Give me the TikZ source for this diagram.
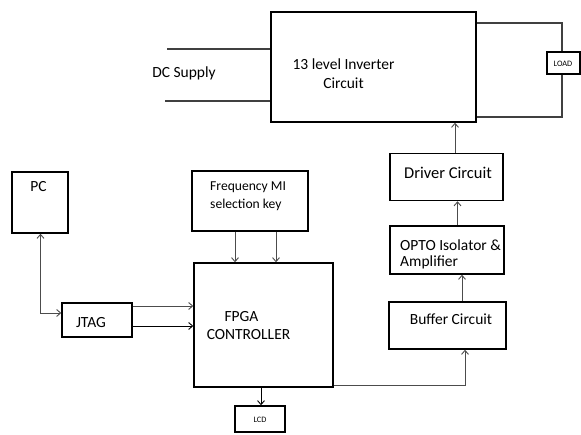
\documentclass[tikz,border=0pt]{standalone}
\usepackage{fontspec}
\setmainfont{Carlito}
\usetikzlibrary{arrows.meta}
\begin{document}
\begin{tikzpicture}[x=1pt,y=-1pt,
  box/.style={draw=black,line width=1.5pt,inner sep=0pt,fill=none},
  txt/.style={inner sep=0pt,font=\fontsize{15.5}{19}\selectfont},
  small/.style={inner sep=0pt,font=\fontsize{8.3}{10}\selectfont},
  wire/.style={draw=black!75,line width=1.2pt},
  arr/.style={draw=black!70,line width=0.9pt,-{Straight Barb[length=4pt,width=7pt]}},
  arrboth/.style={draw=black!70,line width=0.9pt,{Straight Barb[length=4pt,width=7pt]}-{Straight Barb[length=4pt,width=7pt]}}]
\useasboundingbox[fill=white] (0,0) rectangle (581,435);
% boxes
\node[box,minimum width=205pt,minimum height=110pt] (inv) at (373.5,67) {};
\node[box,minimum width=33pt,minimum height=22pt] (load) at (563.5,63) {};
\node[box,minimum width=56pt,minimum height=61pt] (pc) at (40,202.5) {};
\node[box,minimum width=116pt,minimum height=60pt] (freq) at (250,201) {};
\node[box,minimum width=139pt,minimum height=124pt] (fpga) at (263.5,325) {};
\node[box,minimum width=70pt,minimum height=34pt] (jtag) at (97,320) {};
\node[box,minimum width=50pt,minimum height=26pt] (lcd) at (260,419) {};
\node[box,minimum width=117pt,minimum height=47pt] (buffer) at (447.5,325.5) {};
\node[box,minimum width=114pt,minimum height=48pt] (opto) at (447,250) {};
\node[box,minimum width=113pt,minimum height=47pt] (driver) at (446.5,177) {};
% texts
\node[txt] (dctxt) at (184,73) {DC Supply};
\node[txt,align=center] (invtxt) at (343.5,73.5) {13 level Inverter\\Circuit};
\node[small] (loadtxt) at (563,63.5) {LOAD};
\node[txt] (pctxt) at (38.5,187) {PC};
\node[txt,align=left,anchor=west,font=\fontsize{13.6}{18}\selectfont] (freqtxt) at (210,196) {Frequency MI\\selection key};
\node[txt] (fpgatxt) at (241.5,316.5) {FPGA};
\node[txt] (ctrltxt) at (248.5,335) {CONTROLLER};
\node[txt] (jtagtxt) at (91,322.5) {JTAG};
\node[small] (lcdtxt) at (260,420) {LCD};
\node[txt] (buftxt) at (451,319) {Buffer Circuit};
\node[txt,align=left,anchor=west,font=\fontsize{15.5}{16}\selectfont] (optotxt) at (400,254) {OPTO Isolator \&\\Amplifier};
\node[txt,font=\fontsize{16.5}{19}\selectfont] (drvtxt) at (448,172.5) {Driver Circuit};
% DC supply wires
\coordinate (dc1) at (167,49);
\coordinate (dc2) at (165,101);
\draw[wire] (dc1) -- (dc1 -| inv.west);
\draw[wire] (dc2) -- (dc2 -| inv.west);
% load wires
\coordinate (lt) at (562,23);
\coordinate (lb) at (562,117);
\draw[wire] (lt -| inv.east) -- (lt) -- (lt |- load.north);
\draw[wire] (lb |- load.south) -- (lb) -- (lb -| inv.east);
% PC <-> JTAG
\coordinate (pj) at (40.5,313);
\draw[arrboth] (pj |- pc.south) -- (pj) -- (pj -| jtag.west);
% freq -> fpga
\coordinate (f1) at (235,0);
\coordinate (f2) at (276,0);
\draw[arr] (f1 |- freq.south) -- (f1 |- fpga.north);
\draw[arr] (f2 |- freq.south) -- (f2 |- fpga.north);
% jtag -> fpga
\coordinate (j1) at (0,306);
\coordinate (j2) at (0,326);
\draw[arr] (j1 -| jtag.east) -- (j1 -| fpga.west);
\draw[arr,draw=black] (j2 -| jtag.east) -- (j2 -| fpga.west);
% fpga -> lcd
\coordinate (fl) at (261,0);
\draw[arr,draw=black] (fl |- fpga.south) -- (fl |- lcd.north);
% fpga -> buffer
\coordinate (fb) at (465,385);
\draw[arr] (fb -| fpga.east) -- (fb) -- (fb |- buffer.south);
% chain up
\coordinate (bo) at (462,0);
\draw[arr] (bo |- buffer.north) -- (bo |- opto.south);
\coordinate (od) at (457.5,0);
\draw[arr] (od |- opto.north) -- (od |- driver.south);
\coordinate (di) at (455,0);
\draw[arr] (di |- driver.north) -- (di |- inv.south);
\end{tikzpicture}
\end{document}
